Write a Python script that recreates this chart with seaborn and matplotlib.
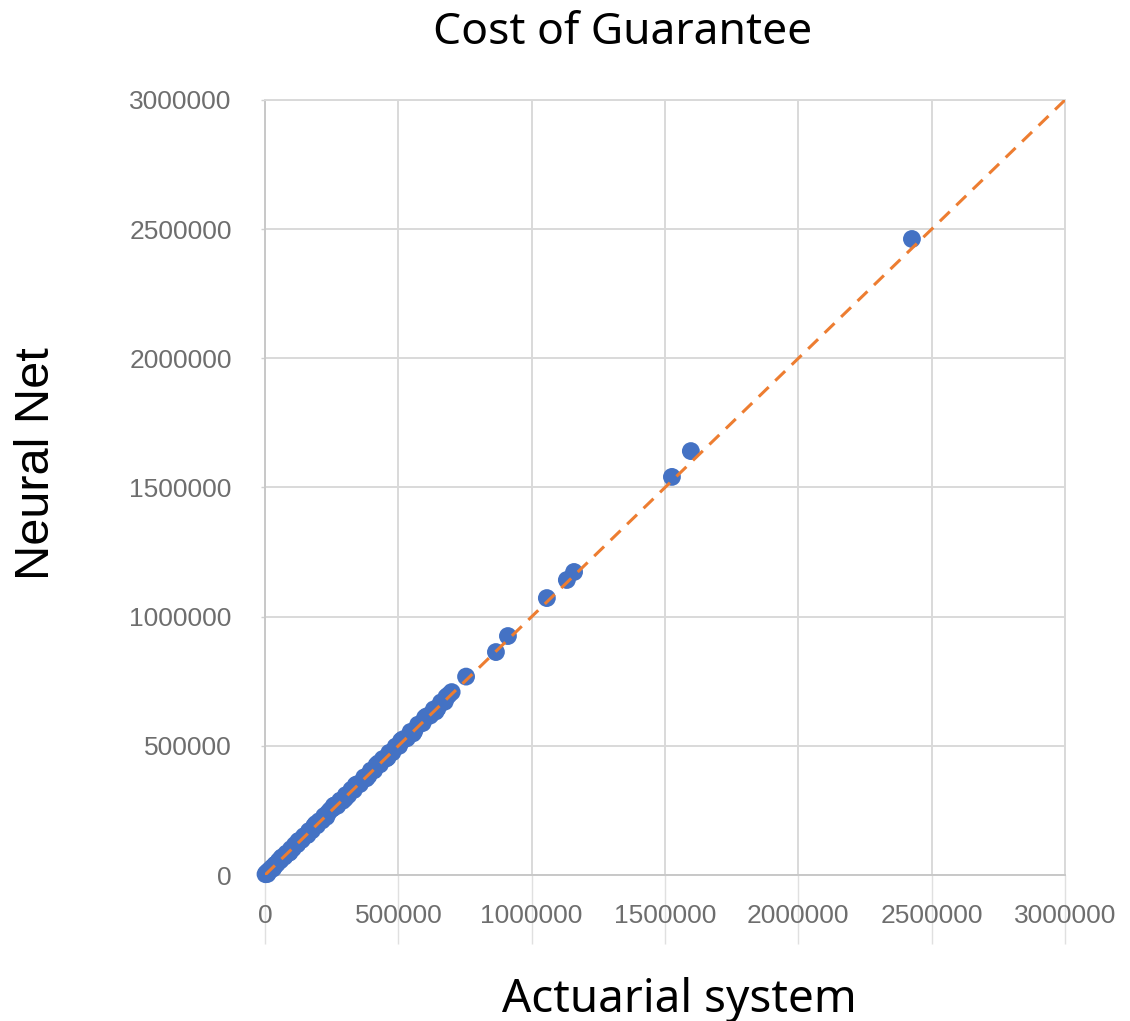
import matplotlib
matplotlib.use("Agg")
import matplotlib.pyplot as plt
import seaborn as sns
import pandas as pd

title = "Cost of Guarantee"
x_label = "Actuarial system"
y_label = "Neural Net"

tick_values = [0, 500000, 1000000, 1500000, 2000000, 2500000, 3000000]
tick_labels = ["0", "500000", "1000000", "1500000", "2000000", "2500000", "3000000"]

actuarial = [2000, 6000, 11000, 15000, 21000, 26000, 33000, 38000, 44000, 52000,
             58000, 66000, 73000, 80000, 88000, 97000, 104000, 112000, 121000, 129000,
             138000, 146000, 157000, 165000, 176000, 184000, 195000, 203000, 214000, 222000,
             236000, 245000, 254000, 263000, 271000, 282000, 291000, 303000, 312000, 324000,
             333000, 345000, 356000, 372000, 388000, 397000, 409000, 418000, 431000, 442000,
             455000, 466000, 478000, 490000, 503000, 517000, 532000, 546000, 560000, 574000,
             591000, 606000, 619000, 633000, 647000, 660000, 674000, 688000, 700000, 754000,
             866000, 911000, 1057000, 1132000, 1159000, 1526000, 1597000, 2426000,
             9000, 30000, 62000, 92000, 125000, 160000, 190000, 230000, 258000, 300000,
             340000, 380000, 425000, 460000, 510000, 555000, 600000, 640000, 680000]
neural_net = [3000, 8000, 10000, 17000, 20000, 28000, 31000, 40000, 43000, 55000,
              57000, 69000, 71000, 83000, 86000, 100000, 102000, 116000, 119000, 133000,
              136000, 150000, 154000, 170000, 173000, 189000, 192000, 208000, 211000, 228000,
              240000, 251000, 258000, 270000, 268000, 288000, 287000, 309000, 309000, 330000,
              329000, 351000, 352000, 378000, 384000, 404000, 405000, 425000, 428000, 449000,
              451000, 473000, 475000, 497000, 500000, 525000, 529000, 554000, 557000, 582000,
              588000, 614000, 617000, 641000, 645000, 668000, 671000, 696000, 708000, 768000,
              863000, 925000, 1072000, 1142000, 1173000, 1541000, 1641000, 2462000,
              4000, 25000, 67000, 87000, 131000, 156000, 197000, 225000, 268000, 296000,
              348000, 374000, 432000, 455000, 519000, 548000, 609000, 633000, 689000]

df = pd.DataFrame({"Actuarial system": actuarial, "Neural Net": neural_net})

sns.set_style("white")
plt.rcParams["font.family"] = ["Liberation Sans", "DejaVu Sans"]

W, H = 1130, 1021
fig = plt.figure(figsize=(W / 100, H / 100), dpi=100)
ax = fig.add_axes([265 / W, 1 - 875 / H, 800 / W, 775 / H])

grid_color = "#d9d9d9"

sns.scatterplot(data=df, x="Actuarial system", y="Neural Net", ax=ax,
                color="#4472C4", s=165, edgecolor="none", linewidth=0,
                clip_on=False, zorder=3)
ax.axline((0, 0), slope=1, color="#ED7D31", lw=2.2, dashes=(4.5, 3.0), zorder=4)

ax.set_xlim(0, 3000000)
ax.set_ylim(0, 3000000)
ax.set_xticks(tick_values)
ax.set_xticklabels(tick_labels)
ax.set_yticks(tick_values)
ax.set_yticklabels(tick_labels)

ax.grid(True, color=grid_color, lw=1.4, zorder=0)
ax.set_axisbelow(True)
for side in ["left", "bottom", "right", "top"]:
    ax.spines[side].set_visible(True)
    ax.spines[side].set_color(grid_color)
    ax.spines[side].set_linewidth(1.4)
ax.spines["left"].set_color("#c8c8c8")
ax.spines["bottom"].set_color("#c8c8c8")

ax.tick_params(axis="x", bottom=True, direction="out", length=50, width=1.0,
               color="#e0e0e0", pad=-29, labelsize=19, labelcolor="#6e6e6e")
ax.tick_params(axis="y", left=True, direction="out", length=3, width=1.0,
               color="#d0d0d0", pad=21, labelsize=19, labelcolor="#6e6e6e")
ax.set_xlabel("")
ax.set_ylabel("")

fig.text(623 / W, 1 - 44 / H, title, ha="center", va="baseline",
         fontsize=32, family=["Noto Sans", "DejaVu Sans"], color="black")
fig.text(679 / W, 1 - 1012 / H, x_label, ha="center", va="baseline",
         fontsize=33, family=["Noto Sans", "DejaVu Sans"], color="black")
fig.text(37 / W, 1 - 464 / H, y_label, ha="center", va="center", rotation=90,
         fontsize=35, family=["Liberation Sans", "DejaVu Sans"], color="black")

fig.savefig("out.png", dpi=100, facecolor="white")
